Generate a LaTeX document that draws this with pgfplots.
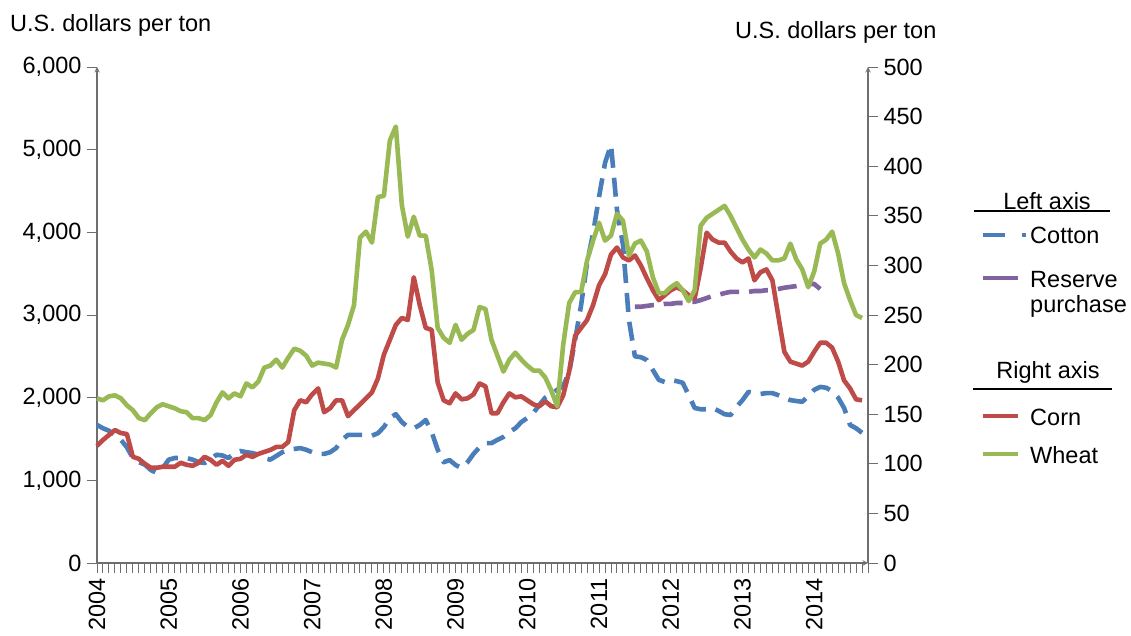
\documentclass[border=0pt]{standalone}
\usepackage{fontspec}
\setmainfont{Liberation Sans}
\usepackage{pgfplots}
\pgfplotsset{compat=1.18}
\definecolor{cotton}{RGB}{74,126,187}
\definecolor{corn}{RGB}{190,75,72}
\definecolor{wheat}{RGB}{152,185,84}
\definecolor{reserve}{RGB}{128,100,162}
\definecolor{axisgray}{RGB}{110,110,110}
\newcommand{\fs}{\fontsize{23.5}{28}\selectfont}
\begin{document}
\begin{tikzpicture}[x=1pt,y=1pt]
\path[use as bounding box] (0,0) rectangle (1131,635);
\pgfplotsset{
  common/.style={
    at={(97pt,72pt)}, anchor=south west, scale only axis,
    width=771pt, height=496pt,
    xmin=0, xmax=129,
    clip=false,
    axis line style={-, draw=axisgray, line width=1.4pt},
    tick style={draw=axisgray, line width=1pt},
    major tick length=10pt, minor tick length=10pt,
    tick label style={font=\fs},
    /pgf/number format/assume math mode=true,
  }
}
\begin{axis}[common,
  axis x line=bottom, axis y line=left,
  xtick align=outside, ytick align=outside,
  ymin=0, ymax=6000,
  ytick={0,1000,...,6000},
  /pgf/number format/fixed, /pgf/number format/1000 sep={,},
  yticklabel style={xshift=-2pt},
  xtick={0,12,...,120},
  xticklabels={2004,2005,2006,2007,2008,2009,2010,2011,2012,2013,2014},
  xticklabel style={rotate=90, anchor=east, xshift=-2pt},
  minor xtick={0,...,129},
]
\addplot[cotton, line width=4.6pt, dash pattern=on 19pt off 10pt, line join=round] coordinates {
(0,1670)(1,1630)(2,1600)(3,1550)(4,1490)(5,1400)(6,1270)(7,1220)(8,1190)(9,1125)
(10,1090)(11,1150)(12,1250)(13,1270)(14,1270)(15,1270)(16,1250)(17,1220)(18,1210)(19,1250)
(20,1310)(21,1300)(22,1270)(23,1330)(24,1355)(25,1340)(26,1330)(27,1310)(28,1270)(29,1250)
(30,1295)(31,1340)(32,1370)(33,1380)(34,1390)(35,1370)(36,1340)(37,1320)(38,1320)(39,1340)
(40,1390)(41,1490)(42,1550)(43,1550)(44,1550)(45,1550)(46,1540)(47,1570)(48,1645)(49,1755)
(50,1800)(51,1705)(52,1645)(53,1630)(54,1670)(55,1730)(56,1585)(57,1370)(58,1220)(59,1245)
(60,1185)(61,1150)(62,1220)(63,1320)(64,1400)(65,1450)(66,1450)(67,1490)(68,1525)(69,1585)
(70,1630)(71,1705)(72,1755)(73,1815)(74,1910)(75,2000)(76,2045)(77,2095)(78,2140)(79,2310)
(80,2700)(81,3120)(82,3630)(83,3990)(84,4430)(85,4840)(86,5060)(87,4270)(88,3850)(89,2940)
(90,2500)(91,2490)(92,2455)(93,2335)(94,2215)(95,2190)(96,2215)(97,2200)(98,2180)(99,2030)
(100,1875)(101,1860)(102,1860)(103,1875)(104,1840)(105,1800)(106,1790)(107,1890)(108,1970)(109,2070)
(110,2055)(111,2045)(112,2055)(113,2055)(114,2030)(115,2000)(116,1970)(117,1960)(118,1950)(119,2020)
(120,2095)(121,2130)(122,2120)(123,2080)(124,2000)(125,1875)(126,1670)(127,1630)(128,1575)
};
\addplot[reserve, line width=4.6pt, dash pattern=on 19pt off 10pt, line join=round] coordinates {
(90,3100)(91,3100)(92,3110)(93,3120)(94,3120)(95,3135)(96,3135)(97,3145)(98,3145)(99,3160)
(100,3160)(101,3180)(102,3205)(103,3230)(104,3245)(105,3265)(106,3280)(107,3280)(108,3280)(109,3280)
(110,3290)(111,3290)(112,3300)(113,3300)(114,3315)(115,3330)(116,3340)(117,3350)(118,3365)(119,3375)
(120,3375)(121,3315)
};
\end{axis}
\begin{axis}[common,
  axis x line=none, axis y line=right,
  ytick align=outside,
  xtick=\empty, minor xtick={},
  ymin=0, ymax=500,
  ytick={0,50,...,500},
  yticklabel style={xshift=2pt},
]
\addplot[corn, line width=4.6pt, line join=round] coordinates {
(0,118)(1,124)(2,129)(3,134)(4,131)(5,130)(6,107)(7,105)(8,100)(9,96)
(10,96)(11,97)(12,97)(13,97)(14,101)(15,99)(16,98)(17,101)(18,107)(19,104)
(20,99)(21,103)(22,98)(23,104)(24,105)(25,109)(26,107)(27,110)(28,112)(29,114)
(30,117)(31,117)(32,122)(33,154)(34,164)(35,162)(36,170)(37,176)(38,152)(39,156)
(40,164)(41,164)(42,148)(43,154)(44,160)(45,166)(46,172)(47,186)(48,210)(49,225)
(50,240)(51,247)(52,245)(53,288)(54,260)(55,237)(56,235)(57,182)(58,164)(59,161)
(60,171)(61,165)(62,166)(63,170)(64,181)(65,178)(66,151)(67,151)(68,162)(69,171)
(70,167)(71,168)(72,164)(73,160)(74,158)(75,163)(76,158)(77,157)(78,169)(79,193)
(80,229)(81,237)(82,245)(83,260)(84,280)(85,291)(86,311)(87,318)(88,308)(89,305)
(90,310)(91,300)(92,287)(93,275)(94,265)(95,270)(96,275)(97,278)(98,275)(99,270)
(100,267)(101,297)(102,333)(103,326)(104,323)(105,323)(106,314)(107,307)(108,303)(109,307)
(110,285)(111,293)(112,296)(113,285)(114,249)(115,213)(116,203)(117,201)(118,199)(119,203)
(120,213)(121,222)(122,222)(123,217)(124,203)(125,184)(126,176)(127,165)(128,164)
};
\addplot[wheat, line width=4.6pt, line join=round] coordinates {
(0,166)(1,164)(2,168)(3,169)(4,166)(5,159)(6,154)(7,146)(8,144)(9,151)
(10,157)(11,160)(12,158)(13,156)(14,153)(15,152)(16,146)(17,146)(18,144)(19,149)
(20,162)(21,172)(22,166)(23,171)(24,168)(25,181)(26,177)(27,183)(28,197)(29,199)
(30,205)(31,197)(32,207)(33,216)(34,214)(35,209)(36,199)(37,202)(38,201)(39,200)
(40,197)(41,225)(42,240)(43,260)(44,328)(45,334)(46,323)(47,369)(48,370)(49,426)
(50,440)(51,361)(52,329)(53,349)(54,330)(55,330)(56,295)(57,237)(58,227)(59,222)
(60,240)(61,225)(62,231)(63,235)(64,258)(65,256)(66,225)(67,209)(68,193)(69,205)
(70,212)(71,205)(72,199)(73,194)(74,194)(75,187)(76,174)(77,158)(78,220)(79,262)
(80,273)(81,273)(82,305)(83,325)(84,343)(85,325)(86,330)(87,352)(88,345)(89,310)
(90,322)(91,325)(92,314)(93,288)(94,272)(95,272)(96,278)(97,282)(98,275)(99,264)
(100,275)(101,340)(102,348)(103,352)(104,356)(105,360)(106,350)(107,338)(108,326)(109,316)
(110,308)(111,316)(112,312)(113,305)(114,305)(115,307)(116,322)(117,306)(118,296)(119,278)
(120,294)(121,322)(122,326)(123,334)(124,312)(125,282)(126,265)(127,250)(128,247)
};
\end{axis}
% axis titles
\node[anchor=west, font=\fs, inner sep=0pt] at (10,610) {U.S. dollars per ton};
\node[anchor=west, font=\fs, inner sep=0pt] at (735,603) {U.S. dollars per ton};
% legend
\node[font=\fs, inner sep=0pt] at (1047,434) {Left axis};
\draw[black, line width=1.5pt] (974,424) -- (1110,424);
\draw[cotton, line width=3.6pt] (983,400) -- (1005,400);
\draw[cotton, line width=3.6pt] (1022,400) -- (1026,400);
\node[anchor=west, font=\fs, inner sep=0pt] at (1030,400) {Cotton};
\draw[reserve, line width=3.6pt] (983,357) -- (1018,357);
\node[anchor=west, font=\fs, inner sep=0pt] at (1030,355) {Reserve};
\node[anchor=west, font=\fs, inner sep=0pt] at (1030,329) {purchase};
\node[font=\fs, inner sep=0pt] at (1048,263) {Right axis};
\draw[black, line width=1.5pt] (973,246) -- (1112,246);
\draw[corn, line width=3.6pt] (983,219) -- (1018,219);
\node[anchor=west, font=\fs, inner sep=0pt] at (1030,218) {Corn};
\draw[wheat, line width=3.6pt] (983,181) -- (1018,181);
\node[anchor=west, font=\fs, inner sep=0pt] at (1030,180) {Wheat};
\end{tikzpicture}
\end{document}
